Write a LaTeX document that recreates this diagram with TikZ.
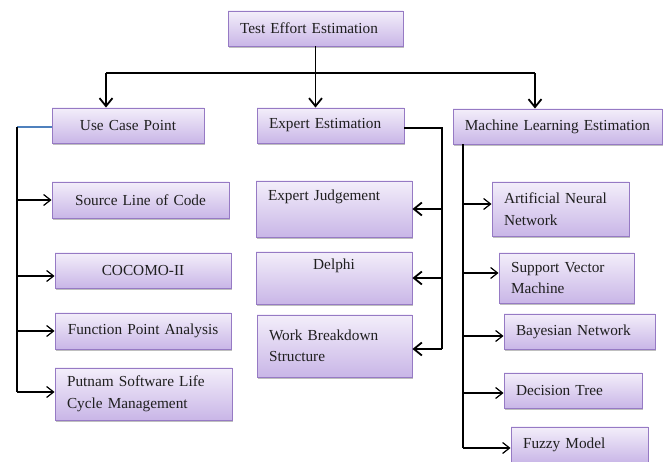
\documentclass[tikz,border=0pt]{standalone}
\usepackage{fontspec}
\setmainfont{Liberation Serif}
\usetikzlibrary{arrows.meta,shadows}
\definecolor{boxtop}{RGB}{243,238,250}
\definecolor{boxbot}{RGB}{201,182,231}
\definecolor{boxedge}{RGB}{150,122,196}
\definecolor{ucpblue}{RGB}{79,129,189}
\begin{document}
\begin{tikzpicture}[x=1pt,y=-1pt,
  box/.style={draw=boxedge, line width=0.9pt, top color=boxtop, bottom color=boxbot,
    drop shadow={shadow xshift=1.2pt, shadow yshift=-1.8pt, fill=black!50, opacity=0.5},
    font=\fontsize{15.3}{21.5}\selectfont, inner xsep=12pt, inner ysep=2pt,
    align=left, text=black!88},
  wire/.style={line width=1.8pt, black},
  bigarrow/.style={wire, -{Straight Barb[length=8pt,width=13pt]}},
  smallarrow/.style={line width=1.2pt, black, -{Straight Barb[length=7pt,width=11pt]}},
  blueline/.style={line width=1.8pt, ucpblue}
]
\useasboundingbox (0,0) rectangle (665,462);

% boxes
\node[box, minimum width=175pt, text width=151pt, minimum height=35pt] (top) at (315.5,28.5) {Test Effort Estimation};
\node[box, minimum width=152pt, text width=128pt, minimum height=35pt, align=center] (ucp) at (128,125.5) {Use Case Point};
\node[box, minimum width=147pt, text width=123pt, minimum height=35pt] (ee) at (330.5,125.5) {Expert Estimation};
\node[box, minimum width=209pt, inner xsep=3pt, text width=203pt, minimum height=35pt, align=center] (ml) at (557.5,126.5) {Machine Learning Estimation};

\node[box, minimum width=177pt, text width=153pt, minimum height=36pt, align=center] (sloc) at (140.5,200) {Source Line of Code};
\node[box, minimum width=176pt, text width=152pt, minimum height=35pt, align=center] (coc) at (143,270.5) {COCOMO-II};
\node[box, minimum width=176pt, text width=152pt, minimum height=36pt, align=center] (fpa) at (143,331) {Function Point Analysis};
\node[box, minimum width=177pt, text width=153pt, minimum height=52pt] (put) at (143.5,394) {Putnam Software Life\\Cycle Management};

\node[box, minimum width=156pt, text width=132pt, minimum height=56pt] (ej) at (334,209) {Expert Judgement\\\strut};
\node[box, minimum width=156pt, text width=132pt, minimum height=52pt, align=center] (del) at (334,278) {Delphi\\\strut};
\node[box, minimum width=155pt, text width=131pt, minimum height=62pt] (wbs) at (334.5,346) {Work Breakdown\\Structure};

\node[box, minimum width=137pt, text width=113pt, minimum height=54pt] (ann) at (560.5,209) {Artificial Neural\\Network};
\node[box, minimum width=135pt, text width=111pt, minimum height=50pt] (svm) at (566.5,278) {Support Vector\\Machine};
\node[box, minimum width=151pt, text width=127pt, minimum height=35pt] (bn) at (579.5,331.5) {Bayesian Network};
\node[box, minimum width=138pt, text width=114pt, minimum height=35pt] (dt) at (573,390.5) {Decision Tree};
\node[box, minimum width=137pt, text width=113pt, minimum height=36pt] (fm) at (579.5,445) {Fuzzy Model};

% top level connectors
\coordinate (jl) at (106,73);
\coordinate (jr) at (535,73);
\coordinate (jc) at (top.south |- jl);
\draw[wire] (top.south) -- (jc);
\draw[wire] (jl) -- (jr);
\draw[bigarrow] (jl) -- (jl |- ucp.north);
\draw[bigarrow] (jc) -- (jc |- ee.north);
\draw[bigarrow] (jr) -- (jr |- ml.north);

% use case point branch
\coordinate (lbot) at (17,392);
\draw[blueline] ([yshift=-1.5pt]ucp.west) -- ([yshift=-1.5pt]ucp.west -| lbot);
\draw[wire] ([yshift=-1.5pt]ucp.west -| lbot) -- (lbot);
\draw[smallarrow] (sloc.west -| lbot) -- (sloc.west);
\draw[smallarrow] ([yshift=-5.5pt]coc.west -| lbot) -- ([yshift=-5.5pt]coc.west);
\draw[smallarrow] (fpa.west -| lbot) -- (fpa.west);
\draw[smallarrow] (lbot) -- (lbot -| put.west);

% expert estimation branch
\coordinate (ebot) at (442,349);
\draw[wire] ([yshift=-2.5pt]ee.east) -- ([yshift=-2.5pt]ee.east -| ebot) -- (ebot);
\draw[bigarrow] (ej.east -| ebot) -- (ej.east);
\draw[bigarrow] (del.east -| ebot) -- (del.east);
\draw[bigarrow] (ebot) -- (ebot -| wbs.east);

% machine learning branch
\coordinate (mbot) at (463,448);
\draw[wire] (mbot |- ml.south) -- (mbot);
\draw[smallarrow] ([yshift=5pt]ann.west -| mbot) -- ([yshift=5pt]ann.west);
\draw[smallarrow] ([yshift=5pt]svm.west -| mbot) -- ([yshift=5pt]svm.west);
\draw[smallarrow] ([yshift=-4.5pt]bn.west -| mbot) -- ([yshift=-4.5pt]bn.west);
\draw[smallarrow] ([yshift=-2.5pt]dt.west -| mbot) -- ([yshift=-2.5pt]dt.west);
\draw[smallarrow] (mbot) -- (mbot -| fm.west);
\end{tikzpicture}
\end{document}
